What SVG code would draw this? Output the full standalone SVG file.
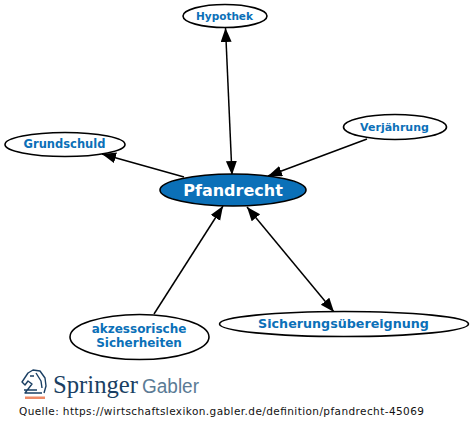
<svg xmlns="http://www.w3.org/2000/svg" width="474" height="431" viewBox="0 0 474 431">
<style>
.n{fill:#fff;stroke:#000;stroke-width:1.6}
.t{font-family:"DejaVu Sans",sans-serif;font-weight:bold;fill:#0b70b8;text-anchor:middle}
.c line{stroke:#000;stroke-width:1.5}
</style>
<defs>
<marker id="a" markerUnits="userSpaceOnUse" markerWidth="15" markerHeight="12" refX="14" refY="5.5" orient="auto-start-reverse"><path d="M0 0L14 5.5L0 11z" fill="#000"/></marker>
</defs>
<rect width="474" height="431" fill="#fff"/>
<g id="connectors" class="c">
<line x1="225.500" y1="28" x2="232" y2="175" marker-start="url(#a)" marker-end="url(#a)"/>
<line x1="184" y1="177" x2="102" y2="154" marker-end="url(#a)"/>
<line x1="367" y1="139" x2="268" y2="176" marker-end="url(#a)"/>
<line x1="154" y1="314" x2="223" y2="206" marker-end="url(#a)"/>
<line x1="247" y1="207" x2="334" y2="312" marker-start="url(#a)" marker-end="url(#a)"/>
</g>
<g id="hypothek"><ellipse class="n" cx="225" cy="16" rx="42" ry="11.500"/><text class="t" x="224.500" y="20" font-size="10.500">Hypothek</text></g>
<g id="grundschuld"><ellipse class="n" cx="65" cy="144.500" rx="60" ry="12"/><text class="t" x="64.500" y="148" font-size="11.500">Grundschuld</text></g>
<g id="verjaehrung"><ellipse class="n" cx="395" cy="127" rx="51.500" ry="12.500"/><text class="t" x="394.500" y="130.500" font-size="11">Verjährung</text></g>
<g id="pfandrecht"><ellipse cx="233" cy="190" rx="73" ry="16" fill="#0b70b8" stroke="#000" stroke-width="1.6"/><text class="t" x="233" y="195.500" font-size="16" style="fill:#fff">Pfandrecht</text></g>
<g id="akzessorische"><ellipse class="n" cx="139.500" cy="337" rx="69.500" ry="22.500"/><text class="t" x="139" y="333" font-size="12">akzessorische</text><text class="t" x="139" y="346.500" font-size="12">Sicherheiten</text></g>
<g id="sicherung"><ellipse class="n" cx="344" cy="324" rx="124.500" ry="12.500"/><text class="t" x="343.500" y="328" font-size="12.700">Sicherungsübereignung</text></g>
<g id="logo">
<path d="M24 390L37 390M42 393H25L32 384L28 381L25 385L22 382L28 373L33 370L40 371L45 378L46 386L44 393M30 376L34 376M36 373L41 381L42 388" fill="none" stroke="#1a3f63" stroke-width="1.4" stroke-linejoin="round"/>
<rect x="25" y="396.500" width="20" height="2.500" fill="#ee8a66"/>
<text x="53" y="393" font-family="Liberation Serif,serif" font-size="26" fill="#1a3f63" textLength="85" lengthAdjust="spacingAndGlyphs">Springer</text>
<text x="142" y="393" font-family="Liberation Sans,sans-serif" font-size="20" fill="#5b7b95" textLength="57" lengthAdjust="spacingAndGlyphs">Gabler</text>
</g>
<text id="source" x="19" y="414.500" font-family="DejaVu Sans,sans-serif" font-size="10.500" fill="#111" textLength="405" lengthAdjust="spacing">Quelle: https://wirtschaftslexikon.gabler.de/definition/pfandrecht-45069</text>
</svg>
